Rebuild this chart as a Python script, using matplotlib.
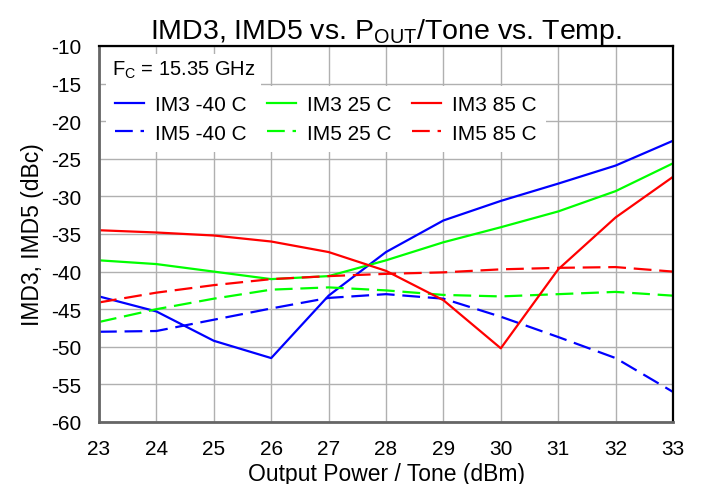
import matplotlib
matplotlib.use("Agg")
import matplotlib.pyplot as plt

plt.rcParams['font.family'] = ['Liberation Sans', 'DejaVu Sans']
plt.rcParams['axes.unicode_minus'] = False

# output power per tone (dBm)
pout = [23, 24, 25, 26, 27, 28, 29, 30, 31, 32, 33]

# IM3 / IM5 (dBc) at each temperature
im3_m40 = [-43.3, -45.3, -49.2, -51.5, -43.2, -37.4, -33.2, -30.6, -28.3, -25.9, -22.6]
im3_25 = [-38.5, -39.0, -40.0, -41.0, -40.6, -38.5, -36.1, -34.1, -32.0, -29.3, -25.6]
im3_85 = [-34.5, -34.8, -35.2, -36.0, -37.4, -39.9, -43.8, -50.2, -39.7, -32.8, -27.4]
im5_m40 = [-48.0, -47.9, -46.4, -44.9, -43.5, -43.0, -43.6, -46.0, -48.7, -51.5, -56.0]
im5_25 = [-46.7, -45.0, -43.6, -42.4, -42.1, -42.5, -43.1, -43.3, -43.0, -42.7, -43.2]
im5_85 = [-44.1, -42.8, -41.8, -41.0, -40.6, -40.3, -40.1, -39.7, -39.5, -39.4, -40.0]

fig = plt.figure(figsize=(7.02, 4.85), dpi=100)
ax = fig.add_axes([99 / 702, 1 - 423 / 485, 574 / 702, 376 / 485])

dash = (0, (8, 3.5))
ax.plot(pout, im3_m40, color='#0000ff', lw=1.6, label='IM3 -40 C')
ax.plot(pout, im5_m40, color='#0000ff', lw=1.6, ls=dash, label='IM5 -40 C')
ax.plot(pout, im3_25, color='#00ff00', lw=1.6, label='IM3 25 C')
ax.plot(pout, im5_25, color='#00ff00', lw=1.6, ls=dash, label='IM5 25 C')
ax.plot(pout, im3_85, color='#ff0000', lw=1.6, label='IM3 85 C')
ax.plot(pout, im5_85, color='#ff0000', lw=1.6, ls=dash, label='IM5 85 C')

ax.set_xlim(23, 33)
ax.set_ylim(-60, -10)
ax.set_xticks(range(23, 34))
ax.set_yticks(range(-60, -9, 5))
ax.tick_params(labelsize=15, length=0)
ax.tick_params(axis='x', pad=12)
ax.tick_params(axis='y', pad=13)
ax.grid(True, color='#b0b0b0', lw=1.0)
for side in ['left', 'bottom']:
    ax.spines[side].set_color('#666666')
    ax.spines[side].set_linewidth(2)
for side in ['top', 'right']:
    ax.spines[side].set_color('black')
    ax.spines[side].set_linewidth(1.6)

ax.set_title('IMD3, IMD5 vs. P$_{\\mathregular{OUT}}$/Tone vs. Temp.', fontsize=20.5, pad=5)
ax.set_xlabel('Output Power / Tone (dBm)', fontsize=16.5, labelpad=3)
ax.set_ylabel('IMD3, IMD5 (dBc)', fontsize=16.5, labelpad=5)

ax.text(0.022, 0.965, 'F$_{\\mathregular{C}}$ = 15.35 GHz', transform=ax.transAxes,
        fontsize=14.5, va='top', ha='left',
        bbox=dict(facecolor='white', edgecolor='none', pad=4))

leg = ax.legend(ncol=3, loc='upper left', bbox_to_anchor=(0.012, 0.894), fontsize=15,
                frameon=True, facecolor='white', edgecolor='none', framealpha=1,
                handlelength=1.4, columnspacing=1.0, handletextpad=0.5,
                labelspacing=0.45, borderpad=0.45, borderaxespad=0.0)
leg.get_frame().set_boxstyle('square', pad=0)

fig.savefig('out.png', dpi=100)
